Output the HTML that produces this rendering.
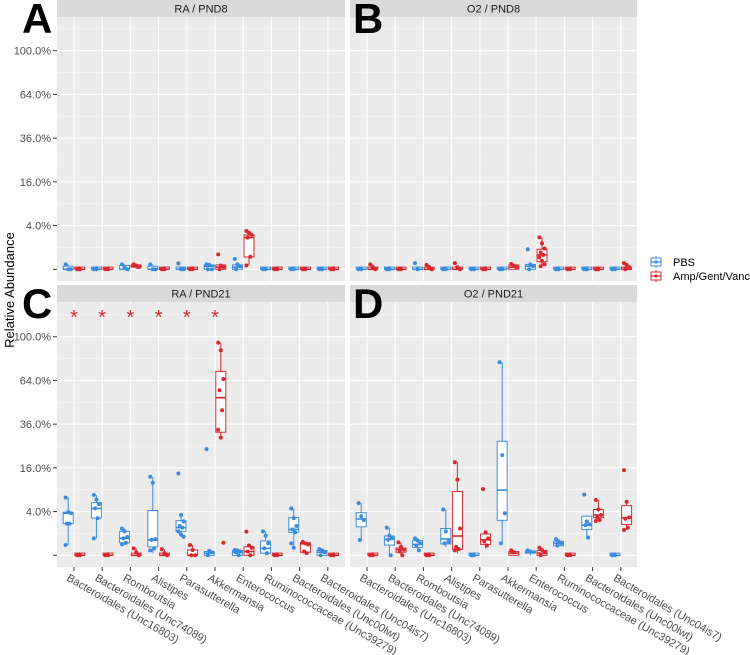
<!DOCTYPE html>
<html><head><meta charset="utf-8"><style>
body{margin:0;background:#fff;}
svg{display:block;font-family:"Liberation Sans",sans-serif;}
</style></head><body>
<svg id="chart" width="750" height="655"></svg>
<script>
const categories=["Bacteroidales (Unc16803)","Bacteroidales (Unc74089)","Romboutsia","Alistipes","Parasutterella","Akkermansia","Enterococcus","Ruminococcaceae (Unc39279)","Bacteroidales (Unc00lwt)","Bacteroidales (Unc04is7)"];
const yTicks=[0,4,16,36,64,100];
const yTickLabels=["","4.0%","16.0%","36.0%","64.0%","100.0%"];
const groups=["PBS","Amp/Gent/Vanc"];
// box stats [min,q1,median,q3,max] in percent
const A_pbs=[[0,0,0,0.02,0.05],[0,0,0,0.01,0.02],[0,0,0,0.03,0.05],[0,0,0,0.02,0.05],[0,0,0,0.01,0.02],[0,0,0.02,0.04,0.05],[0,0,0.01,0.04,0.05],[0,0,0,0.01,0.02],[0,0,0,0.01,0.02],[0,0,0,0.01,0.02]];
const A_pbs_pts=[[0.05,0,0],[0,0],[0.05,0.01,0],[0.05,0,0],[0.075,0,0],[0.05,0.04,0,0],[0.22,0.05,0.02,0],[0,0],[0,0],[0,0]];
const A_amg=[[0,0,0,0.01,0.02],[0,0,0,0.01,0.02],[0,0.01,0.02,0.04,0.05],[0,0,0,0.01,0.02],[0,0,0,0.01,0.02],[0,0,0.01,0.04,0.05],[0.03,0.32,2.1,2.46,3.07],[0,0,0,0.01,0.02],[0,0,0,0.01,0.02],[0,0,0,0.01,0.02]];
const A_amg_pts=[[0,0],[0,0],[0.05,0.03,0.01],[0,0],[0,0],[0.47,0.03,0.01,0],[3.07,2.8,2.5,2.1,0.33,0.03],[0,0],[0,0],[0,0]];
const B_pbs=[[0,0,0,0.01,0.02],[0,0,0,0.01,0.02],[0,0,0,0.01,0.02],[0,0,0,0.01,0.02],[0,0,0,0.01,0.02],[0,0,0,0.01,0.02],[0,0,0.02,0.05,0.06],[0,0,0,0.01,0.02],[0,0,0,0.01,0.02],[0,0,0,0.01,0.02]];
const B_pbs_pts=[[0,0],[0,0],[0.08,0],[0,0],[0,0],[0,0],[0.84,0.05,0.02,0],[0,0],[0,0],[0,0]];
const B_amg=[[0,0,0,0.01,0.05],[0,0,0,0.01,0.02],[0,0,0,0.01,0.04],[0,0,0,0.01,0.02],[0,0,0,0.01,0.02],[0,0,0.01,0.04,0.06],[0.02,0.12,0.43,0.84,2.14],[0,0,0,0.01,0.02],[0,0,0,0.01,0.02],[0,0,0,0.01,0.07]];
const B_amg_pts=[[0.05,0.01,0],[0,0],[0.04,0.01,0],[0.08,0.01,0],[0,0],[0.06,0.03,0.01],[2.14,1.4,0.9,0.6,0.43,0.3,0.15,0.05,0.02],[0,0],[0,0],[0.08,0.04,0.01,0]];
const C_pbs=[[0.22,2.1,3.7,3.9,7],[0.6,2.9,4.6,5.8,7.6],[0.22,0.33,0.6,1.2,1.5],[0.01,0.15,0.49,4.2,12.9],[0.72,1.2,1.6,2.5,3.4],[0,0,0.01,0.03,0.04],[0,0,0.02,0.05,0.08],[0,0.01,0.1,0.43,1.2],[0.12,1.1,1.4,2.96,4.6],[0,0,0.02,0.05,0.08]];
const C_pbs_pts=[[7,3.9,3.7,2.1,2.1,0.22],[7.6,6.5,5.5,4.6,2.9,0.6],[1.5,1.2,0.7,0.6,0.33,0.25],[12.9,11,0.55,0.5,0.1,0.05],[14,3.4,2.4,1.8,1.6,1.2,0.9,0.72],[23.6,0.04,0.02,0],[0.06,0.05,0.03,0.02,0],[1.2,0.8,0.3,0.1,0.01],[4.6,2.9,1.8,1.4,1.1,0.3,0.12],[0.08,0.05,0.02,0]];
const C_amg=[[0,0,0,0.01,0.02],[0,0,0,0.01,0.02],[0,0,0,0.01,0.1],[0,0,0,0.01,0.08],[0,0,0,0.06,0.22],[29,31.7,52,70.8,94.6],[0,0,0.03,0.15,0.3],[0,0,0,0.01,0.02],[0.01,0.02,0.28,0.33,0.38],[0,0,0,0.01,0.02]];
const C_amg_pts=[[0,0],[0,0],[0.1,0.02,0],[0.08,0.01,0],[0.22,0.06,0,0],[94.6,88,65,57,44,33,29,0.33],[1.17,0.2,0.12,0.03,0],[0,0],[0.38,0.3,0.25,0.03,0.01],[0,0]];
const D_pbs=[[0.49,1.7,2.76,3.8,5.7],[0,0.22,0.54,0.78,1.6],[0.04,0.13,0.25,0.45,0.6],[0.15,0.27,0.56,1.5,4.4],[0,0,0,0.01,0.02],[0.3,2.56,8.9,27.2,78],[0,0.01,0.02,0.04,0.05],[0.15,0.19,0.3,0.41,0.55],[0.65,1.4,1.9,3.2,3.2],[0,0,0,0.01,0.02]];
const D_pbs_pts=[[5.7,3.2,2.6,0.49],[1.6,0.8,0.6,0.5,0],[0.6,0.45,0.3,0.2,0.05],[4.4,1.2,0.4,0.3],[0,0],[78,21,3.7,0.3],[0.05,0.03],[0.55,0.4,0.3,0.2],[7.7,2.4,2.0,1.9,0.65],[0,0]];
const D_amg=[[0,0,0,0.01,0.02],[0,0.02,0.07,0.11,0.35],[0,0,0,0.01,0.02],[0.01,0.075,0.78,8.5,18.1],[0.1,0.25,0.5,0.95,1.1],[0,0,0.01,0.03,0.05],[0,0,0.01,0.05,0.12],[0,0,0,0.01,0.02],[2.45,2.96,3.4,4.4,6.4],[1.34,2.0,2.96,5.15,6]];
const D_amg_pts=[[0,0],[0.35,0.15,0.07,0.03,0],[0,0],[18.1,12,1.5,0.15,0.08,0.05],[9.2,1.1,0.6,0.4,0.2],[0.05,0.02],[0.12,0.06,0.02,0],[0,0],[6.4,4.4,3.4,3.0,2.6,2.45],[15.2,6,3,2.8,1.6,1.34]];
const sigStars=[1,1,1,1,1,1,0,0,0,0];

const NS="http://www.w3.org/2000/svg";
const svg=document.getElementById('chart');
function mk(tag,attrs,parent){const e=document.createElementNS(NS,tag);for(const k in attrs)e.setAttribute(k,attrs[k]);(parent||svg).appendChild(e);return e;}
const BLUE="#3A8BDB",RED="#D7282F";
const panels=[
 {key:"A",title:"RA / PND8",x0:57,x1:345,top:17,bot:281,zero:269.3,pbs:A_pbs,pp:A_pbs_pts,amg:A_amg,ap:A_amg_pts,stars:false},
 {key:"B",title:"O2 / PND8",x0:350,x1:637,top:17,bot:281,zero:269.3,pbs:B_pbs,pp:B_pbs_pts,amg:B_amg,ap:B_amg_pts,stars:false},
 {key:"C",title:"RA / PND21",x0:57,x1:345,top:302,bot:567,zero:555.3,pbs:C_pbs,pp:C_pbs_pts,amg:C_amg,ap:C_amg_pts,stars:true},
 {key:"D",title:"O2 / PND21",x0:350,x1:637,top:302,bot:567,zero:555.3,pbs:D_pbs,pp:D_pbs_pts,amg:D_amg,ap:D_amg_pts,stars:false}];
const K=21.86, STEP=28.2;
function yS(p,v){return p.zero-K*Math.sqrt(v);}
function xS(p,i,d){return p.x0+17+STEP*i+d*5.8;}

panels.forEach((p,pi)=>{
  const g=mk('g',{});
  
  
  const bg=mk('rect',{x:p.x0,y:p.top,width:p.x1-p.x0,height:p.bot-p.top,fill:"#EBEBEB"},g);
  
  const st=mk('rect',{x:p.x0,y:p.top-17,width:p.x1-p.x0,height:17,fill:"#D9D9D9"},g);
  
  const stt=mk('text',{x:(p.x0+p.x1)/2,y:p.top-4.5,'text-anchor':'middle','font-size':'11',fill:'#1A1A1A'},g);
  stt.textContent=p.title;
  
  for(let s=1;s<=11;s+=2){const yy=p.zero-K*s;if(yy<p.top)continue;mk('line',{x1:p.x0,x2:p.x1,y1:yy,y2:yy,stroke:'#fff','stroke-width':0.5,'stroke-opacity':0.7},g);}
  yTicks.forEach(t=>{const yy=yS(p,t);mk('line',{x1:p.x0,x2:p.x1,y1:yy,y2:yy,stroke:'#fff','stroke-width':1.1},g);});
  categories.forEach((c,i)=>{const xx=xS(p,i,0);mk('line',{x1:xx,x2:xx,y1:p.top,y2:p.bot,stroke:'#fff','stroke-width':1.1},g);});
  if(p.x0===57){
    yTicks.forEach((t,ti)=>{const yy=yS(p,t);mk('line',{x1:53,x2:57,y1:yy,y2:yy,stroke:'#333','stroke-width':1},g);
      if(yTickLabels[ti]){const tl=mk('text',{x:51,y:yy+4,'text-anchor':'end','font-size':'11',fill:'#4D4D4D'},g);tl.textContent=yTickLabels[ti];
      }});
  }
  if(p.bot>500){
    categories.forEach((c,i)=>{const xx=xS(p,i,0);mk('line',{x1:xx,x2:xx,y1:p.bot,y2:p.bot+4,stroke:'#333','stroke-width':1},g);
      const tl=mk('text',{x:xx-8,y:p.bot+13,'font-size':'11',fill:'#4D4D4D',transform:`rotate(30 ${xx-8} ${p.bot+13})`},g);tl.textContent=c;
      });
  }
  [[p.pbs,p.pp,-1,BLUE,'pbs'],[p.amg,p.ap,1,RED,'amg']].forEach(([stats,pts,d,col,nm])=>{
    stats.forEach((s,i)=>{
      const cx=xS(p,i,d), hw=5;
      const bx=mk('g',{},g);
      
      mk('line',{x1:cx,x2:cx,y1:yS(p,s[0]),y2:yS(p,s[1]),stroke:col,'stroke-width':1},bx);
      mk('line',{x1:cx,x2:cx,y1:yS(p,s[3]),y2:yS(p,s[4]),stroke:col,'stroke-width':1},bx);
      const yq3=yS(p,s[3]),yq1=yS(p,s[1]);
      mk('rect',{x:cx-hw,y:yq3,width:2*hw,height:Math.max(yq1-yq3,0.5),fill:'#fff',stroke:col,'stroke-width':1},bx);
      mk('line',{x1:cx-hw,x2:cx+hw,y1:yS(p,s[2]),y2:yS(p,s[2]),stroke:col,'stroke-width':1.6},bx);
      pts[i].forEach((v,j)=>{const jx=((j*7)%5-2)*1.3;
        const pt=mk('circle',{cx:cx+jx,cy:yS(p,v),r:2,fill:col},bx);
        });
    });
  });
  if(p.stars){sigStars.forEach((s,i)=>{if(!s)return;const t=mk('text',{x:xS(p,i,0),y:324,'text-anchor':'middle','font-size':'20',fill:RED},g);t.textContent='*';
    });}
  const L=mk('text',{x:p.x0===57?22:353,y:p.top+16,'font-size':'42','font-weight':'bold',fill:'#000'},g);L.textContent=p.key;
  
});
const yt=mk('text',{x:14,y:290,'text-anchor':'middle','font-size':'13',fill:'#000',transform:'rotate(-90 14 290)'});
yt.textContent='Relative Abundance';

const lg=mk('g',{});

[[BLUE,groups[0],262],[RED,groups[1],276]].forEach(([c,t,y])=>{
  const e=mk('g',{},lg);
  
  mk('line',{x1:656,x2:656,y1:y-6,y2:y+6,stroke:c,'stroke-width':1},e);
  mk('rect',{x:651,y:y-4,width:10,height:8,fill:'#fff',stroke:c,'stroke-width':1},e);
  mk('line',{x1:651,x2:661,y1:y,y2:y,stroke:c,'stroke-width':1.2},e);
  mk('circle',{cx:656,cy:y,r:1.6,fill:c},e);
  const tx=mk('text',{x:673,y:y+4,'font-size':'11',fill:'#000'},e);tx.textContent=t;
});
</script>
</body></html>
